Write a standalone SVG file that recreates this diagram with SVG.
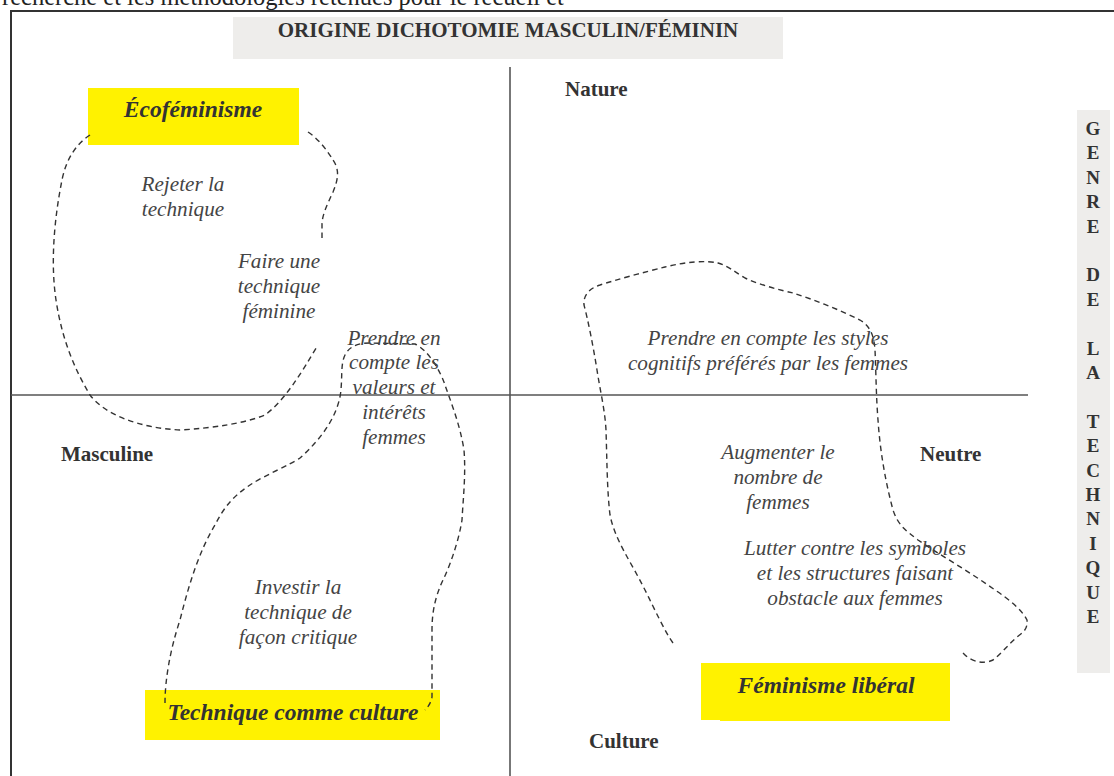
<svg xmlns="http://www.w3.org/2000/svg" width="1114" height="776" viewBox="0 0 1114 776">
<style>
.frame{fill:none;stroke:#333;stroke-width:2}
.axis{stroke:#555;stroke-width:1.6;fill:none}
.blob{fill:none;stroke:#333;stroke-width:1.4;stroke-dasharray:5.5 4}
.lab{font-family:"Liberation Serif","Times New Roman",serif;font-weight:bold;font-size:21px;fill:#333}
.it{font-family:"Liberation Serif","Times New Roman",serif;font-style:italic;font-size:21.2px;fill:#444;text-anchor:middle}
.yl{fill:#fff200}
.yt{font-family:"Liberation Serif","Times New Roman",serif;font-style:italic;font-weight:bold;font-size:23.5px;fill:#333;text-anchor:middle}
.vt{font-family:"Liberation Serif","Times New Roman",serif;font-weight:bold;font-size:19px;fill:#333;text-anchor:middle}
</style>
<rect width="1114" height="776" fill="#fff"/>
<text x="2" y="5" font-family="Liberation Serif, serif" font-size="24.5" fill="#222">recherche et les méthodologies retenues pour le recueil et</text>
<rect class="frame" x="11" y="11" width="1120" height="800"/>

<g id="title">
<rect x="233" y="17" width="550" height="42" fill="#eeedeb"/>
<text x="508" y="37" class="lab" text-anchor="middle" font-size="20.8">ORIGINE DICHOTOMIE MASCULIN/FÉMININ</text>
</g>

<g id="axes">
<line class="axis" x1="510" y1="67" x2="510" y2="776"/>
<line class="axis" x1="11" y1="395" x2="1028" y2="395"/>
</g>

<g id="axis-labels">
<text class="lab" x="565" y="96">Nature</text>
<text class="lab" x="61" y="461">Masculine</text>
<text class="lab" x="920" y="461">Neutre</text>
<text class="lab" x="589" y="748">Culture</text>
</g>

<g id="genre-technique">
<rect x="1077" y="110" width="33" height="563" fill="#eeedeb"/>
<text class="vt" x="1093"><tspan x="1093" y="135">G</tspan><tspan x="1093" y="159">E</tspan><tspan x="1093" y="184">N</tspan><tspan x="1093" y="208">R</tspan><tspan x="1093" y="233">E</tspan><tspan x="1093" y="281">D</tspan><tspan x="1093" y="306">E</tspan><tspan x="1093" y="355">L</tspan><tspan x="1093" y="379">A</tspan><tspan x="1093" y="428">T</tspan><tspan x="1093" y="452">E</tspan><tspan x="1093" y="477">C</tspan><tspan x="1093" y="501">H</tspan><tspan x="1093" y="525">N</tspan><tspan x="1093" y="550">I</tspan><tspan x="1093" y="574">Q</tspan><tspan x="1093" y="599">U</tspan><tspan x="1093" y="623">E</tspan></text>
</g>

<g id="ecofeminisme">
<rect class="yl" x="88" y="88" width="211" height="57"/>
<text class="yt" x="193" y="117">Écoféminisme</text>
</g>
<g id="technique-culture">
<rect class="yl" x="145" y="690" width="295" height="50"/>
<text class="yt" x="293" y="720">Technique comme culture</text>
</g>
<g id="feminisme-liberal">
<rect class="yl" x="701" y="663" width="249" height="57"/>
<rect class="yl" x="720" y="663" width="230" height="58"/>
<text class="yt" x="826" y="693">Féminisme libéral</text>
</g>

<g id="connectors">
<path class="blob" d="M90,135 C75,145 66,160 62,180 C55,215 50,260 56,300 C62,340 75,370 90,395 C105,415 140,428 180,430 C215,428 245,423 265,415 C285,400 300,375 318,345"/>
<path class="blob" d="M308,132 C320,140 328,152 333,160 C340,170 338,180 333,192 C327,205 322,215 322,225 L322,240"/>
<path class="blob" d="M165,703 C165,680 170,650 180,620 C190,580 200,550 215,525 C225,505 235,495 250,485 C265,475 290,465 300,458 C320,440 335,420 340,397 C343,380 340,365 345,355 C350,345 360,343 370,343 L415,344 C428,350 440,370 445,385 C452,405 460,425 464,450 C466,475 463,500 462,520 C458,545 448,570 443,580 C436,595 432,610 432,630 L432,697 C431,703 428,707 425,710"/>
<path class="blob" d="M673,643 C665,632 655,610 645,590 C630,560 615,540 610,515 C607,490 607,460 606,430 C605,410 600,390 597,370 C593,345 588,320 584,305 C583,295 590,288 600,285 C615,280 645,272 665,267 C685,262 705,260 718,263 C728,266 735,272 745,278 C760,285 780,290 793,293 C815,300 840,310 860,320 C870,326 874,335 875,350 C876,370 876,395 878,420 C880,450 885,480 893,510 C898,525 905,530 918,540 C940,555 970,572 995,590 C1010,600 1022,610 1027,620 C1028,630 1022,633 1017,637 C1008,645 1000,655 993,660 C985,664 972,663 963,653"/>
</g>

<g id="rejeter">
<text class="it"><tspan x="183" y="191">Rejeter la</tspan><tspan x="183" y="216">technique</tspan></text>
</g>
<g id="faire">
<text class="it"><tspan x="279" y="268">Faire une</tspan><tspan x="279" y="293">technique</tspan><tspan x="279" y="318">féminine</tspan></text>
</g>
<g id="valeurs">
<text class="it"><tspan x="394" y="345">Prendre en</tspan><tspan x="394" y="369">compte les</tspan><tspan x="394" y="394">valeurs et</tspan><tspan x="394" y="419">intérêts</tspan><tspan x="394" y="444">femmes</tspan></text>
</g>
<g id="styles">
<text class="it"><tspan x="768" y="345">Prendre en compte les styles</tspan><tspan x="768" y="370">cognitifs préférés par les femmes</tspan></text>
</g>
<g id="augmenter">
<text class="it"><tspan x="778" y="459">Augmenter le</tspan><tspan x="778" y="484">nombre de</tspan><tspan x="778" y="509">femmes</tspan></text>
</g>
<g id="lutter">
<text class="it"><tspan x="855" y="555">Lutter contre les symboles</tspan><tspan x="855" y="580">et les structures faisant</tspan><tspan x="855" y="605">obstacle aux femmes</tspan></text>
</g>
<g id="investir">
<text class="it"><tspan x="298" y="594">Investir la</tspan><tspan x="298" y="619">technique de</tspan><tspan x="298" y="644">façon critique</tspan></text>
</g>
</svg>
